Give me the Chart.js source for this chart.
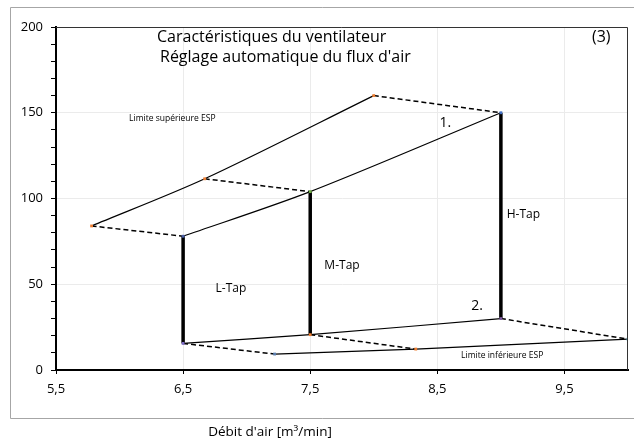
<!DOCTYPE html>
<html>
<head>
<meta charset="utf-8">
<script src="https://cdn.jsdelivr.net/npm/chart.js@4.4.1/dist/chart.umd.min.js"></script>
<style>
  html, body { margin: 0; padding: 0; background: #fff; }
  #wrap { position: relative; width: 634px; height: 442px; }
</style>
</head>
<body>
<div id="wrap"><canvas id="fan" width="634" height="442"></canvas></div>
<script>
// ── Data ──
const UPPER_X = [5.78, 6.67, 8.0];     // Limite supérieure ESP
const UPPER_Y = [84, 111.5, 160];
const HIGH_X  = [6.5, 7.5, 9.0];       // courbe 1.
const HIGH_Y  = [78, 104, 150];
const LOW_X   = [6.5, 7.5, 9.0];       // courbe 2.
const LOW_Y   = [15.5, 20.6, 30];
const LOWER_X = [7.22, 8.33, 10.0];    // Limite inférieure ESP
const LOWER_Y = [9.3, 12.2, 18];

const X_TICKS  = [5.5, 6.5, 7.5, 8.5, 9.5];
const X_LABELS = ['5,5', '6,5', '7,5', '8,5', '9,5'];
const Y_TICKS  = [0, 10, 20, 30, 40, 50, 60, 70, 80, 90, 100, 110, 120, 130, 140, 150, 160, 170, 180, 190, 200];
const Y_LABELS = [0, 50, 100, 150, 200];

const FONT = "'Open Sans', 'Noto Sans', sans-serif";

const pts = (xs, ys) => xs.map((x, i) => ({ x, y: ys[i] }));

// ── Datasets ──
function curve(data, colors) {
  return {
    data, showLine: true, tension: 0.3,
    borderColor: '#000', borderWidth: 1.2,
    pointStyle: 'rect', pointRadius: 2, pointBorderWidth: 0,
    pointBackgroundColor: colors,
  };
}
function dashed(a, b) {
  return {
    data: [a, b], showLine: true,
    borderColor: '#000', borderWidth: 1.5, borderDash: [5, 3],
    pointRadius: 0,
  };
}
function tapBar(a, b) {
  return {
    data: [a, b], showLine: true,
    borderColor: '#000', borderWidth: 3.5, pointRadius: 0,
  };
}

const upper = pts(UPPER_X, UPPER_Y);
const high  = pts(HIGH_X, HIGH_Y);
const low   = pts(LOW_X, LOW_Y);
const lower = pts(LOWER_X, LOWER_Y);

const datasets = [
  curve(upper, ['#ed7d31', '#ed7d31', '#ed7d31']),
  curve(high,  ['#4a5fa8', '#70ad47', '#4472c4']),
  curve(low,   ['#7e6bc4', '#ed7d31', '#7e5aa0']),
  curve(lower, ['#5b7fb0', '#ed7d31', '#4bacc6']),
];
high.forEach((p, i) => datasets.push(dashed(upper[i], p)));
low.forEach((p, i) => datasets.push(dashed(p, lower[i])));
high.forEach((p, i) => datasets.push(tapBar(p, low[i])));

// ── Frame + texts ──
const decor = {
  id: 'decor',
  beforeDraw(chart) {
    const c = chart.ctx;
    c.save();
    c.strokeStyle = '#a6a6a6';
    c.lineWidth = 1;
    c.beginPath();
    c.moveTo(640, 7.5); c.lineTo(10.5, 7.5); c.lineTo(10.5, 418.5); c.lineTo(640, 418.5);
    c.stroke();
    c.restore();
  },
  afterDraw(chart) {
    const c = chart.ctx, a = chart.chartArea;
    const sx = chart.scales.x, sy = chart.scales.y;
    c.save();
    // top / right border of plot
    c.strokeStyle = '#333';
    c.lineWidth = 1;
    c.beginPath();
    c.moveTo(a.left, a.top + 0.5); c.lineTo(a.right - 0.5, a.top + 0.5); c.lineTo(a.right - 0.5, a.bottom);
    c.stroke();

    c.fillStyle = '#000';
    c.textBaseline = 'middle';
    const at = (t, x, y, size, align) => {
      c.font = size + 'px ' + FONT;
      c.textAlign = align || 'center';
      c.fillText(t, sx.getPixelForValue(x), sy.getPixelForValue(y));
    };
    at('Limite supérieure ESP', 6.075, 146.4, 8.5, 'left');
    at('Limite inférieure ESP', 8.687, 8.7, 8.5, 'left');
    at('1.', 8.563, 144, 14);
    at('2.', 8.813, 37.3, 14);
    at('H-Tap', 9.177, 90.4, 12);
    at('M-Tap', 7.75, 60.8, 12);
    at('L-Tap', 6.876, 47.6, 12);

    c.font = '16px ' + FONT;
    c.textAlign = 'left';
    c.fillText('Caractéristiques du ventilateur', 157, 37);
    c.fillText("Réglage automatique du flux d'air", 160, 57);
    c.fillText('(3)', 592, 37);

    c.font = '13.5px ' + FONT;
    c.textAlign = 'center';
    c.fillText("Débit d'air [m³/min]", 270, 432);
    c.restore();
  }
};

new Chart(document.getElementById('fan'), {
  type: 'scatter',
  data: { datasets },
  plugins: [decor],
  options: {
    responsive: false,
    animation: false,
    devicePixelRatio: 1,
    layout: { padding: { left: 10, top: 27, right: 6, bottom: 0 } },
    plugins: { legend: { display: false }, tooltip: { enabled: false } },
    scales: {
      x: {
        type: 'linear', min: 5.5, max: 10,
        afterBuildTicks: s => { s.ticks = X_TICKS.map(v => ({ value: v })); },
        afterFit: s => { s.height = 72; },
        border: { color: '#000', width: 2 },
        grid: { color: '#ebebeb', tickColor: '#000', tickLength: 4 },
        ticks: {
          autoSkip: false, maxRotation: 0, padding: 7, color: '#000',
          font: { family: FONT, size: 13 },
          callback: v => X_LABELS[X_TICKS.indexOf(v)],
        },
      },
      y: {
        type: 'linear', min: 0, max: 200,
        afterBuildTicks: s => { s.ticks = Y_TICKS.map(v => ({ value: v })); },
        afterFit: s => { s.width = 46; },
        border: { color: '#000', width: 2 },
        grid: {
          color: ctx => (ctx.tick && ctx.tick.value % 50 === 0 && ctx.tick.value > 0) ? '#ebebeb' : 'rgba(0,0,0,0)',
          tickColor: '#000', tickLength: 5,
        },
        ticks: {
          autoSkip: false, padding: 8, color: '#000',
          font: { family: FONT, size: 13 },
          callback: v => Y_LABELS.includes(v) ? String(v) : '',
        },
      },
    },
  },
});
</script>
</body>
</html>
